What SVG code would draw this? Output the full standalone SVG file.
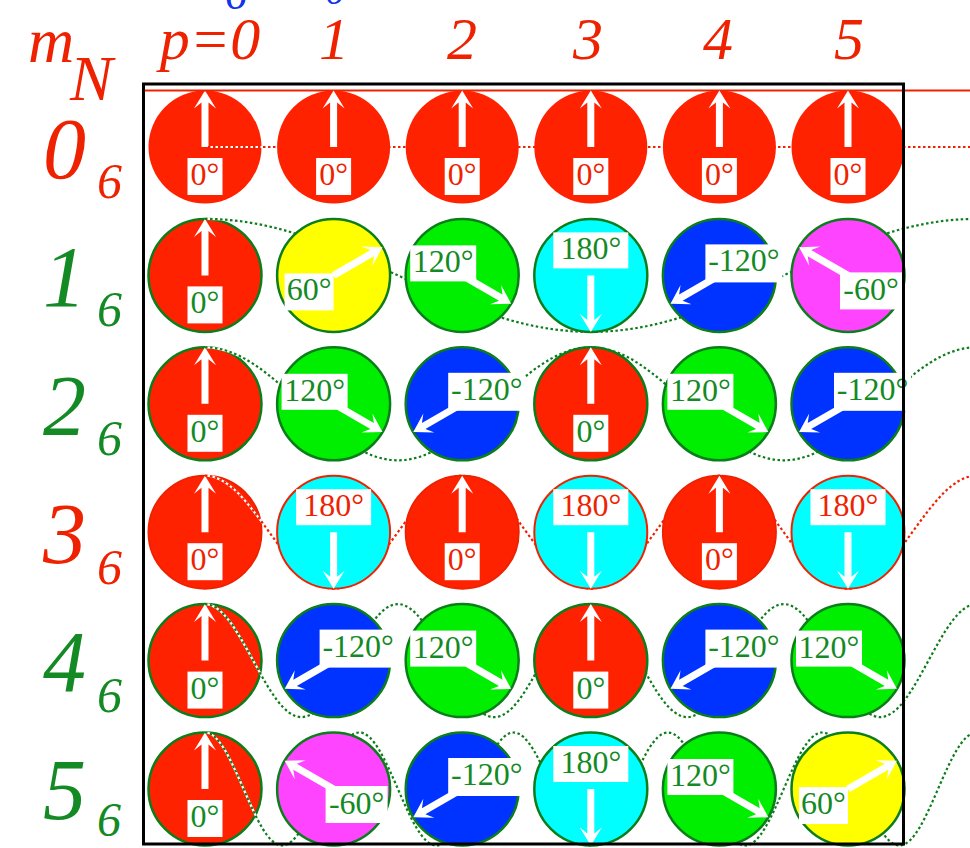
<svg xmlns="http://www.w3.org/2000/svg" xmlns:xlink="http://www.w3.org/1999/xlink" width="970" height="848" viewBox="0 0 970 848">
<style>
.t{font-family:"Liberation Serif",serif;font-size:32px;text-anchor:middle}
.it{font-family:"Liberation Serif",serif;font-style:italic}
.tr{fill:#ee2200}
.tg{fill:#138a24}
.lb{fill:#ffffff}
.fr{fill:#ff2200}
.fy{fill:#ffff00}
.fg{fill:#00ee00}
.fc{fill:#00ffff}
.fb{fill:#0033ff}
.fm{fill:#ff44ff}
.sg{stroke:#0b7d1a;stroke-width:2.5}
.sr{stroke:#ee2200;stroke-width:2}
.under{fill:none;stroke:#ffffff;stroke-width:2.2}
.dg{fill:none;stroke:#0b7d1a;stroke-width:2.2;stroke-dasharray:2.5 2.5}
.dr{fill:none;stroke:#ee2200;stroke-width:2.2;stroke-dasharray:2.5 2.5}
</style>
<defs>
<path id="arr" d="M-3.5,0 L-3.5,-44.5 L-11,-38.5 L0,-56.5 L11,-38.5 L3.5,-44.5 L3.5,0 Z" fill="#ffffff"/>
<path id="w0" d="M208,147 H970"/>
<path id="w1" d="M205,218.9 c69.81,0 130,27.55 192.9,56.5 c62.9,28.95 123.09,56.5 192.9,56.5 c69.81,0 130,-27.55 192.9,-56.5 c62.9,-28.95 123.09,-56.5 192.9,-56.5"/>
<path id="w2" d="M205,347.3 c34.91,0 65,27.55 96.45,56.5 c31.45,28.95 61.55,56.5 96.45,56.5 c34.91,0 65,-27.55 96.45,-56.5 c31.45,-28.95 61.55,-56.5 96.45,-56.5 c34.91,0 65,27.55 96.45,56.5 c31.45,28.95 61.55,56.5 96.45,56.5 c34.91,0 65,-27.55 96.45,-56.5 c31.45,-28.95 61.55,-56.5 96.45,-56.5"/>
<path id="w3" d="M205,475.7 c23.27,0 43.33,27.55 64.3,56.5 c20.97,28.95 41.03,56.5 64.3,56.5 c23.27,0 43.33,-27.55 64.3,-56.5 c20.97,-28.95 41.03,-56.5 64.3,-56.5 c23.27,0 43.33,27.55 64.3,56.5 c20.97,28.95 41.03,56.5 64.3,56.5 c23.27,0 43.33,-27.55 64.3,-56.5 c20.97,-28.95 41.03,-56.5 64.3,-56.5 c23.27,0 43.33,27.55 64.3,56.5 c20.97,28.95 41.03,56.5 64.3,56.5 c23.27,0 43.33,-27.55 64.3,-56.5 c20.97,-28.95 41.03,-56.5 64.3,-56.5"/>
<path id="w4" d="M205,604.1 c17.45,0 32.5,27.55 48.23,56.5 c15.73,28.95 30.77,56.5 48.23,56.5 c17.45,0 32.5,-27.55 48.23,-56.5 c15.73,-28.95 30.77,-56.5 48.23,-56.5 c17.45,0 32.5,27.55 48.23,56.5 c15.73,28.95 30.77,56.5 48.23,56.5 c17.45,0 32.5,-27.55 48.23,-56.5 c15.73,-28.95 30.77,-56.5 48.23,-56.5 c17.45,0 32.5,27.55 48.23,56.5 c15.73,28.95 30.77,56.5 48.23,56.5 c17.45,0 32.5,-27.55 48.23,-56.5 c15.73,-28.95 30.77,-56.5 48.23,-56.5 c17.45,0 32.5,27.55 48.23,56.5 c15.73,28.95 30.77,56.5 48.23,56.5 c17.45,0 32.5,-27.55 48.23,-56.5 c15.73,-28.95 30.77,-56.5 48.23,-56.5"/>
<path id="w5" d="M205,732.5 c13.96,0 26,27.55 38.58,56.5 c12.58,28.95 24.62,56.5 38.58,56.5 c13.96,0 26,-27.55 38.58,-56.5 c12.58,-28.95 24.62,-56.5 38.58,-56.5 c13.96,0 26,27.55 38.58,56.5 c12.58,28.95 24.62,56.5 38.58,56.5 c13.96,0 26,-27.55 38.58,-56.5 c12.58,-28.95 24.62,-56.5 38.58,-56.5 c13.96,0 26,27.55 38.58,56.5 c12.58,28.95 24.62,56.5 38.58,56.5 c13.96,0 26,-27.55 38.58,-56.5 c12.58,-28.95 24.62,-56.5 38.58,-56.5 c13.96,0 26,27.55 38.58,56.5 c12.58,28.95 24.62,56.5 38.58,56.5 c13.96,0 26,-27.55 38.58,-56.5 c12.58,-28.95 24.62,-56.5 38.58,-56.5 c13.96,0 26,27.55 38.58,56.5 c12.58,28.95 24.62,56.5 38.58,56.5 c13.96,0 26,-27.55 38.58,-56.5 c12.58,-28.95 24.62,-56.5 38.58,-56.5"/>
</defs>
<rect width="970" height="848" fill="#ffffff"/>

<!-- headers -->
<g id="headers">
<text class="it" x="225" y="9" font-size="44" fill="#1133ee">6</text>
<text class="it" x="326" y="4" font-size="36" fill="#1133ee">o</text>
<text class="it tr" x="28" y="62" font-size="64">m</text>
<text class="it tr" x="70" y="100" font-size="64">N</text>
<text class="it tr" x="210" y="59" font-size="60" text-anchor="middle">p=0</text>
<text class="it tr" x="334" y="59" font-size="60" text-anchor="middle">1</text>
<text class="it tr" x="462" y="59" font-size="60" text-anchor="middle">2</text>
<text class="it tr" x="588" y="59" font-size="60" text-anchor="middle">3</text>
<text class="it tr" x="718" y="59" font-size="60" text-anchor="middle">4</text>
<text class="it tr" x="849" y="59" font-size="60" text-anchor="middle">5</text>
<text class="it tr" x="43" y="178" font-size="86">0</text><text class="it tr" x="97" y="198" font-size="50">6</text>
<text class="it tg" x="43" y="306" font-size="86">1</text><text class="it tg" x="97" y="326" font-size="50">6</text>
<text class="it tg" x="43" y="435" font-size="86">2</text><text class="it tg" x="97" y="455" font-size="50">6</text>
<text class="it tr" x="43" y="563" font-size="86">3</text><text class="it tr" x="97" y="584" font-size="50">6</text>
<text class="it tg" x="43" y="691" font-size="86">4</text><text class="it tg" x="97" y="712" font-size="50">6</text>
<text class="it tg" x="43" y="819" font-size="86">5</text><text class="it tg" x="97" y="836" font-size="48">6</text>
</g>

<!-- column p=0 nodes -->
<g id="n0-0" transform="translate(205,147)"><circle r="56.5" class="fr"/><use href="#arr"/><rect class="lb" x="-17.5" y="11" width="35" height="37"/><text class="t tr" x="0" y="38">0°</text></g>
<g id="n1-0" transform="translate(205,275.4)"><circle r="56.5" class="fr sg"/><use href="#arr"/><rect class="lb" x="-17.5" y="11" width="35" height="37"/><text class="t tg" x="0" y="38">0°</text></g>
<g id="n2-0" transform="translate(205,403.8)"><circle r="56.5" class="fr sg"/><use href="#arr"/><rect class="lb" x="-17.5" y="11" width="35" height="37"/><text class="t tg" x="0" y="38">0°</text></g>
<g id="n3-0" transform="translate(205,532.2)"><circle r="56.5" class="fr sr"/><use href="#arr"/><rect class="lb" x="-17.5" y="11" width="35" height="37"/><text class="t tr" x="0" y="38">0°</text></g>
<g id="n4-0" transform="translate(205,660.6)"><circle r="56.5" class="fr sg"/><use href="#arr"/><rect class="lb" x="-17.5" y="11" width="35" height="37"/><text class="t tg" x="0" y="38">0°</text></g>
<g id="n5-0" transform="translate(205,789)"><circle r="56.5" class="fr sg"/><use href="#arr"/><rect class="lb" x="-17.5" y="11" width="35" height="37"/><text class="t tg" x="0" y="38">0°</text></g>

<!-- connectors -->
<g id="connectors">
<path d="M145,90.5 H970" fill="none" stroke="#ee2200" stroke-width="2"/>
<use href="#w0" class="under"/><use href="#w0" class="dr"/>
<use href="#w1" class="under"/><use href="#w1" class="dg"/>
<use href="#w2" class="under"/><use href="#w2" class="dg"/>
<use href="#w3" class="under"/><use href="#w3" class="dr"/>
<use href="#w4" class="under"/><use href="#w4" class="dg"/>
<use href="#w5" class="under"/><use href="#w5" class="dg"/>
</g>

<!-- row 0 -->
<g id="n0-1" transform="translate(333.6,147)"><circle r="56.5" class="fr"/><use href="#arr"/><rect class="lb" x="-17.5" y="11" width="35" height="37"/><text class="t tr" x="0" y="38">0°</text></g>
<g id="n0-2" transform="translate(462.2,147)"><circle r="56.5" class="fr"/><use href="#arr"/><rect class="lb" x="-17.5" y="11" width="35" height="37"/><text class="t tr" x="0" y="38">0°</text></g>
<g id="n0-3" transform="translate(590.8,147)"><circle r="56.5" class="fr"/><use href="#arr"/><rect class="lb" x="-17.5" y="11" width="35" height="37"/><text class="t tr" x="0" y="38">0°</text></g>
<g id="n0-4" transform="translate(719.4,147)"><circle r="56.5" class="fr"/><use href="#arr"/><rect class="lb" x="-17.5" y="11" width="35" height="37"/><text class="t tr" x="0" y="38">0°</text></g>
<g id="n0-5" transform="translate(848,147)"><circle r="56.5" class="fr"/><use href="#arr"/><rect class="lb" x="-17.5" y="11" width="35" height="37"/><text class="t tr" x="0" y="38">0°</text></g>

<!-- row 1 -->
<g id="n1-1" transform="translate(333.6,275.4)"><circle r="56.5" class="fy sg"/><use href="#arr" transform="rotate(60)"/><rect class="lb" x="-49" y="-2" width="49" height="37"/><text class="t tg" x="-24.5" y="25">60°</text></g>
<g id="n1-2" transform="translate(462.2,275.4)"><circle r="56.5" class="fg sg"/><use href="#arr" transform="rotate(120)"/><rect class="lb" x="-52" y="-30" width="66" height="36"/><text class="t tg" x="-19" y="-3">120°</text></g>
<g id="n1-3" transform="translate(590.8,275.4)"><circle r="56.5" class="fc sg"/><use href="#arr" transform="rotate(180)"/><rect class="lb" x="-37.5" y="-43" width="75" height="36"/><text class="t tg" x="0" y="-16">180°</text></g>
<g id="n1-4" transform="translate(719.4,275.4)"><circle r="56.5" class="fb sg"/><use href="#arr" transform="rotate(-120)"/><rect class="lb" x="-14" y="-31" width="77" height="38"/><text class="t tg" x="24.5" y="-4">-120°</text></g>
<g id="n1-5" transform="translate(848,275.4)"><circle r="56.5" class="fm sg"/><use href="#arr" transform="rotate(-60)"/><rect class="lb" x="-8" y="-3" width="62" height="37"/><text class="t tg" x="23" y="25">-60°</text></g>

<!-- row 2 -->
<g id="n2-1" transform="translate(333.6,403.8)"><circle r="56.5" class="fg sg"/><use href="#arr" transform="rotate(120)"/><rect class="lb" x="-52" y="-30" width="66" height="36"/><text class="t tg" x="-19" y="-3">120°</text></g>
<g id="n2-2" transform="translate(462.2,403.8)"><circle r="56.5" class="fb sg"/><use href="#arr" transform="rotate(-120)"/><rect class="lb" x="-14" y="-31" width="77" height="38"/><text class="t tg" x="24.5" y="-4">-120°</text></g>
<g id="n2-3" transform="translate(590.8,403.8)"><circle r="56.5" class="fr sg"/><use href="#arr"/><rect class="lb" x="-17.5" y="11" width="35" height="37"/><text class="t tg" x="0" y="38">0°</text></g>
<g id="n2-4" transform="translate(719.4,403.8)"><circle r="56.5" class="fg sg"/><use href="#arr" transform="rotate(120)"/><rect class="lb" x="-52" y="-30" width="66" height="36"/><text class="t tg" x="-19" y="-3">120°</text></g>
<g id="n2-5" transform="translate(848,403.8)"><circle r="56.5" class="fb sg"/><use href="#arr" transform="rotate(-120)"/><rect class="lb" x="-14" y="-31" width="77" height="38"/><text class="t tg" x="24.5" y="-4">-120°</text></g>

<!-- row 3 -->
<g id="n3-1" transform="translate(333.6,532.2)"><circle r="56.5" class="fc sr"/><use href="#arr" transform="rotate(180)"/><rect class="lb" x="-37.5" y="-43" width="75" height="36"/><text class="t tr" x="0" y="-16">180°</text></g>
<g id="n3-2" transform="translate(462.2,532.2)"><circle r="56.5" class="fr sr"/><use href="#arr"/><rect class="lb" x="-17.5" y="11" width="35" height="37"/><text class="t tr" x="0" y="38">0°</text></g>
<g id="n3-3" transform="translate(590.8,532.2)"><circle r="56.5" class="fc sr"/><use href="#arr" transform="rotate(180)"/><rect class="lb" x="-37.5" y="-43" width="75" height="36"/><text class="t tr" x="0" y="-16">180°</text></g>
<g id="n3-4" transform="translate(719.4,532.2)"><circle r="56.5" class="fr sr"/><use href="#arr"/><rect class="lb" x="-17.5" y="11" width="35" height="37"/><text class="t tr" x="0" y="38">0°</text></g>
<g id="n3-5" transform="translate(848,532.2)"><circle r="56.5" class="fc sr"/><use href="#arr" transform="rotate(180)"/><rect class="lb" x="-37.5" y="-43" width="75" height="36"/><text class="t tr" x="0" y="-16">180°</text></g>

<!-- row 4 -->
<g id="n4-1" transform="translate(333.6,660.6)"><circle r="56.5" class="fb sg"/><use href="#arr" transform="rotate(-120)"/><rect class="lb" x="-14" y="-31" width="77" height="38"/><text class="t tg" x="24.5" y="-4">-120°</text></g>
<g id="n4-2" transform="translate(462.2,660.6)"><circle r="56.5" class="fg sg"/><use href="#arr" transform="rotate(120)"/><rect class="lb" x="-52" y="-30" width="66" height="36"/><text class="t tg" x="-19" y="-3">120°</text></g>
<g id="n4-3" transform="translate(590.8,660.6)"><circle r="56.5" class="fr sg"/><use href="#arr"/><rect class="lb" x="-17.5" y="11" width="35" height="37"/><text class="t tg" x="0" y="38">0°</text></g>
<g id="n4-4" transform="translate(719.4,660.6)"><circle r="56.5" class="fb sg"/><use href="#arr" transform="rotate(-120)"/><rect class="lb" x="-14" y="-31" width="77" height="38"/><text class="t tg" x="24.5" y="-4">-120°</text></g>
<g id="n4-5" transform="translate(848,660.6)"><circle r="56.5" class="fg sg"/><use href="#arr" transform="rotate(120)"/><rect class="lb" x="-52" y="-30" width="66" height="36"/><text class="t tg" x="-19" y="-3">120°</text></g>

<!-- row 5 -->
<g id="n5-1" transform="translate(333.6,789)"><circle r="56.5" class="fm sg"/><use href="#arr" transform="rotate(-60)"/><rect class="lb" x="-8" y="-3" width="62" height="37"/><text class="t tg" x="23" y="25">-60°</text></g>
<g id="n5-2" transform="translate(462.2,789)"><circle r="56.5" class="fb sg"/><use href="#arr" transform="rotate(-120)"/><rect class="lb" x="-14" y="-31" width="77" height="38"/><text class="t tg" x="24.5" y="-4">-120°</text></g>
<g id="n5-3" transform="translate(590.8,789)"><circle r="56.5" class="fc sg"/><use href="#arr" transform="rotate(180)"/><rect class="lb" x="-37.5" y="-43" width="75" height="36"/><text class="t tg" x="0" y="-16">180°</text></g>
<g id="n5-4" transform="translate(719.4,789)"><circle r="56.5" class="fg sg"/><use href="#arr" transform="rotate(120)"/><rect class="lb" x="-52" y="-30" width="66" height="36"/><text class="t tg" x="-19" y="-3">120°</text></g>
<g id="n5-5" transform="translate(848,789)"><circle r="56.5" class="fy sg"/><use href="#arr" transform="rotate(60)"/><rect class="lb" x="-49" y="-2" width="49" height="37"/><text class="t tg" x="-24.5" y="25">60°</text></g>

<rect id="frame" x="143.5" y="84" width="760" height="760" fill="none" stroke="#000000" stroke-width="3"/>
</svg>
